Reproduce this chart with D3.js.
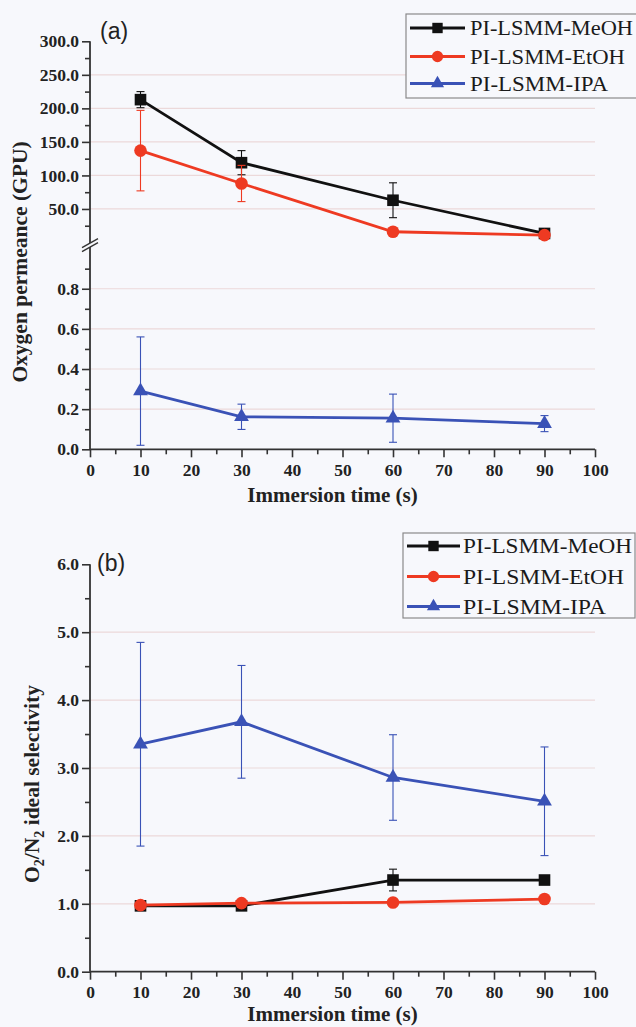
<!DOCTYPE html>
<html><head><meta charset="utf-8">
<script src="https://cdn.jsdelivr.net/npm/d3@7"></script>
<style>body{margin:0;background:#f7f8fc}svg{display:block}
.sf{font-family:"Liberation Serif","Times New Roman",Times,"DejaVu Serif","Noto Serif",serif}
.ss{font-family:"Liberation Sans",Arial,Helvetica,"DejaVu Sans",sans-serif}</style>
</head><body><svg id="c" width="636" height="1027"></svg>
<script>
// ---------- data ----------
const times = [10, 30, 60, 90];
const seriesNames = ["PI-LSMM-MeOH", "PI-LSMM-EtOH", "PI-LSMM-IPA"];
// panel (a): oxygen permeance (GPU)
const permMeOH = [213, 119, 63, 13.5];
const permMeOHErr = [12, 18, 26, 2];
const permEtOH = [137, 88, 16, 11];
const permEtOHErr = [60, 27, 1.5, 1.5];
const permIPA = [0.29, 0.162, 0.155, 0.128];
const permIPAErr = [0.27, 0.063, 0.12, 0.04];
// panel (b): O2/N2 ideal selectivity
const selMeOH = [0.97, 0.97, 1.35, 1.35];
const selMeOHErr = [0.03, 0.03, 0.16, 0.03];
const selEtOH = [0.98, 1.01, 1.02, 1.07];
const selEtOHErr = [0.02, 0.02, 0.02, 0.02];
const selIPA = [3.35, 3.68, 2.86, 2.51];
const selIPAErr = [1.5, 0.83, 0.63, 0.8];
// ticks
const xTicks = [0, 10, 20, 30, 40, 50, 60, 70, 80, 90, 100];
const xMinor = [5, 15, 25, 35, 45, 55, 65, 75, 85, 95];
const upperTicks = [50, 100, 150, 200, 250, 300];
const upperMinor = [25, 75, 125, 175, 225, 275];
const lowerTicks = [0, 0.2, 0.4, 0.6, 0.8];
const lowerMinor = [0.1, 0.3, 0.5, 0.7, 0.9];
const selTicks = [0, 1, 2, 3, 4, 5, 6];
const selMinor = [0.5, 1.5, 2.5, 3.5, 4.5, 5.5];

// ---------- style ----------
const BG = "#f7f8fc";
const colors = ["#111111", "#ee3a22", "#3a52b6"];
const symbols = [d3.symbolSquare, d3.symbolCircle, d3.symbolTriangle];
const symSize = [135, 125, 95];
const axisCol = "#333";
const gridCol = "#ecd9da";

const svg = d3.select("#c");
svg.append("rect").attr("width", 636).attr("height", 1027).attr("fill", BG);

const x = d3.scaleLinear([0, 100], [90, 595]);
const yUp = d3.scaleLinear([0, 300], [242.5, 41.3]);
const yLo = d3.scaleLinear([0, 1], [449.3, 248.6]);
const yB = d3.scaleLinear([0, 6], [971.7, 564.3]);

function grid(g, y, vals) {
  g.selectAll(null).data(vals).join("line")
    .attr("x1", x(0)).attr("x2", x(100))
    .attr("y1", d => y(d)).attr("y2", d => y(d))
    .attr("stroke", gridCol).attr("stroke-width", 1.2);
}
function styleAxis(g) {
  g.attr("font-family", null);
  g.select(".domain").remove();
  g.selectAll("line").attr("stroke", axisCol).attr("stroke-width", 1.6);
  g.selectAll("text").attr("fill", "#222").attr("class", "sf").attr("font-weight", "bold");
}
function yAxis(g, y, major, minor) {
  const a = g.append("g").attr("transform", `translate(${x(0)},0)`)
    .call(d3.axisLeft(y).tickValues(major).tickFormat(d3.format(".1f")).tickSize(8).tickPadding(3));
  styleAxis(a);
  a.selectAll("text").attr("font-size", 17.5);
  const m = g.append("g").attr("transform", `translate(${x(0)},0)`)
    .call(d3.axisLeft(y).tickValues(minor).tickFormat("").tickSize(5));
  styleAxis(m);
}
function xAxis(g, y0) {
  const a = g.append("g").attr("transform", `translate(0,${y0})`)
    .call(d3.axisBottom(x).tickValues(xTicks).tickFormat(d3.format("d")).tickSize(8).tickPadding(6));
  styleAxis(a);
  a.selectAll("text").attr("font-size", 17.5);
  const m = g.append("g").attr("transform", `translate(0,${y0})`)
    .call(d3.axisBottom(x).tickValues(xMinor).tickFormat("").tickSize(5));
  styleAxis(m);
  g.append("line").attr("x1", x(0)).attr("x2", x(100)).attr("y1", y0).attr("y2", y0)
    .attr("stroke", axisCol).attr("stroke-width", 1.8);
}
function series(g, y, vals, errs, i) {
  const pts = times.map((t, k) => ({t, v: vals[k], e: errs[k]}));
  const c = colors[i];
  g.append("path").datum(pts)
    .attr("d", d3.line().x(d => x(d.t)).y(d => y(d.v)))
    .attr("fill", "none").attr("stroke", c).attr("stroke-width", 2.8);
  const eb = g.append("g").attr("stroke", c).attr("stroke-width", 1.1);
  pts.forEach(d => {
    eb.append("line").attr("x1", x(d.t)).attr("x2", x(d.t)).attr("y1", y(d.v - d.e)).attr("y2", y(d.v + d.e));
    [d.v - d.e, d.v + d.e].forEach(v => eb.append("line")
      .attr("x1", x(d.t) - 4).attr("x2", x(d.t) + 4).attr("y1", y(v)).attr("y2", y(v)));
  });
  g.selectAll(null).data(pts).join("path")
    .attr("transform", d => `translate(${x(d.t)},${y(d.v)})`)
    .attr("d", d3.symbol(symbols[i], symSize[i]))
    .attr("fill", c);
}
function legend(g, bx, by, bw, bh, rows, lx1, lx2, tx, lens) {
  g.append("rect").attr("x", bx).attr("y", by).attr("width", bw).attr("height", bh)
    .attr("fill", BG).attr("stroke", "#8a8a8a").attr("stroke-width", 1.2);
  seriesNames.forEach((n, i) => {
    const yy = rows[i];
    g.append("line").attr("x1", lx1).attr("x2", lx2).attr("y1", yy).attr("y2", yy)
      .attr("stroke", colors[i]).attr("stroke-width", 2.8);
    g.append("path").attr("transform", `translate(${(lx1 + lx2) / 2},${yy})`)
      .attr("d", d3.symbol(symbols[i], symSize[i] * 0.8)).attr("fill", colors[i]);
    g.append("text").attr("x", tx).attr("y", yy + 7).text(n)
      .attr("class", "sf").attr("font-size", 21).attr("fill", "#1a1a1a")
      .attr("textLength", lens[i]).attr("lengthAdjust", "spacingAndGlyphs");
  });
}

// ---------- panel (a) ----------
const ga = svg.append("g");
grid(ga, yUp, upperTicks.filter(d => d < 300));
grid(ga, yLo, lowerTicks.filter(d => d > 0));
series(ga, yUp, permMeOH, permMeOHErr, 0);
series(ga, yUp, permEtOH, permEtOHErr, 1);
series(ga, yLo, permIPA, permIPAErr, 2);
yAxis(ga, yUp, upperTicks, upperMinor);
yAxis(ga, yLo, lowerTicks, lowerMinor);
ga.append("line").attr("x1", x(0)).attr("x2", x(0)).attr("y1", yUp(300)).attr("y2", yLo(0))
  .attr("stroke", axisCol).attr("stroke-width", 1.8);
// axis break
const bk = (yUp(0) + yLo(1)) / 2;
ga.append("path").attr("d", `M${x(0) - 8},${bk + 2} L${x(0) + 8},${bk - 7} L${x(0) + 8},${bk - 3} L${x(0) - 8},${bk + 6} Z`)
  .attr("fill", BG);
[0, 4].forEach(o => ga.append("line")
  .attr("x1", x(0) - 8).attr("y1", bk + 2 + o).attr("x2", x(0) + 8).attr("y2", bk - 7 + o)
  .attr("stroke", axisCol).attr("stroke-width", 1.4));
xAxis(ga, yLo(0));
ga.append("text").attr("x", (x(0) + x(100)) / 2 - 10).attr("y", 502).attr("text-anchor", "middle")
  .attr("class", "sf").attr("font-weight", "bold").attr("font-size", 21).attr("fill", "#222")
  .text("Immersion time (s)");
ga.append("text").attr("transform", "translate(27,262) rotate(-90)").attr("text-anchor", "middle")
  .attr("class", "sf").attr("font-weight", "bold").attr("font-size", 21.5).attr("fill", "#222")
  .text("Oxygen permeance (GPU)");
ga.append("text").attr("x", 100).attr("y", 38.5).attr("class", "ss").attr("font-size", 23)
  .attr("fill", "#222").text("(a)");
legend(ga, 406, 14, 236, 84, [28, 56.5, 83.5], 410, 465, 470, [163, 155, 138]);

// ---------- panel (b) ----------
const gb = svg.append("g");
grid(gb, yB, [1, 2, 3, 4, 5]);
series(gb, yB, selMeOH, selMeOHErr, 0);
series(gb, yB, selEtOH, selEtOHErr, 1);
series(gb, yB, selIPA, selIPAErr, 2);
yAxis(gb, yB, selTicks, selMinor);
gb.append("line").attr("x1", x(0)).attr("x2", x(0)).attr("y1", yB(6)).attr("y2", yB(0))
  .attr("stroke", axisCol).attr("stroke-width", 1.8);
xAxis(gb, yB(0));
gb.append("text").attr("x", (x(0) + x(100)) / 2 - 10).attr("y", 1021).attr("text-anchor", "middle")
  .attr("class", "sf").attr("font-weight", "bold").attr("font-size", 21).attr("fill", "#222")
  .text("Immersion time (s)");
const yt = gb.append("text").attr("transform", "translate(39,784) rotate(-90)").attr("text-anchor", "middle")
  .attr("class", "sf").attr("font-weight", "bold").attr("font-size", 21.5).attr("fill", "#222");
yt.append("tspan").text("O");
yt.append("tspan").attr("font-size", 14).attr("dy", 5).text("2");
yt.append("tspan").attr("dy", -5).text("/N");
yt.append("tspan").attr("font-size", 14).attr("dy", 5).text("2");
yt.append("tspan").attr("dy", -5).text(" ideal selectivity");
gb.append("text").attr("x", 97).attr("y", 571).attr("class", "ss").attr("font-size", 23)
  .attr("fill", "#222").text("(b)");
legend(gb, 403, 533, 232, 85, [546, 576.5, 606.5], 407, 460, 463, [169, 161, 143]);
</script></body></html>
